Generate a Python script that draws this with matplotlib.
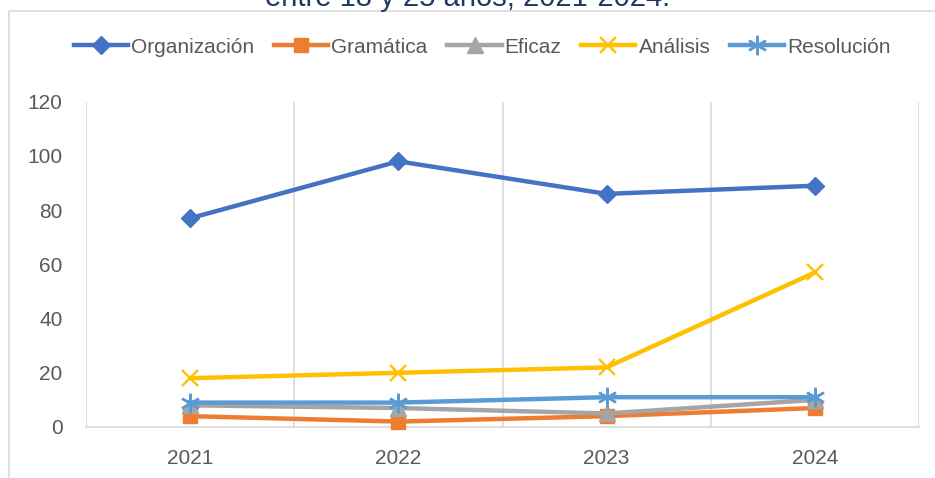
import matplotlib.pyplot as plt
import matplotlib.patches as mpatches
import numpy as np

# data
years = ["2021", "2022", "2023", "2024"]
organizacion = [77, 98, 86, 89]
gramatica = [4, 2, 4, 7]
eficaz = [8, 7, 5, 10]
analisis = [18, 20, 22, 57]
resolucion = [9, 9, 11, 11]

plt.rcParams['font.family'] = ['Liberation Sans', 'DejaVu Sans']

fig = plt.figure(figsize=(9.35, 4.78), dpi=100)

# chart frame (partly outside the picture)
frame = mpatches.Rectangle((9 / 935, -0.1), 1.2, 1 - 11 / 478 + 0.1,
                           transform=fig.transFigure, fill=False,
                           edgecolor="#D9D9D9", linewidth=1.2)
fig.patches.append(frame)

# title, cut off at the top
fig.text(0.5, 1 - 6 / 478, "entre 18 y 25 años, 2021-2024.", ha="center",
         va="baseline", fontsize=21, color="#1F3864")

ax = fig.add_axes([86 / 935, 1 - 427 / 478, (919 - 86) / 935, (427 - 101.7) / 478])
x = np.arange(len(years))

series = [
    ("Organización", organizacion, "#4472C4", "D", 9.5, 1),
    ("Gramática", gramatica, "#ED7D31", "s", 10, 1),
    ("Eficaz", eficaz, "#A5A5A5", "^", 11, 1),
    ("Análisis", analisis, "#FFC000", "x", 12, 1.7),
    ("Resolución", resolucion, "#5B9BD5", (6, 2, 0), 14, 1.7),
]

for name, vals, col, mk, ms, mew in series:
    ax.plot(x, vals, color=col, lw=3.2, marker=mk, markersize=ms,
            markeredgewidth=mew, markeredgecolor=col, markerfacecolor=col,
            label=name, clip_on=False, zorder=3)

ax.set_xlim(-0.5, 3.5)
ax.set_ylim(0, 120)
ax.set_yticks(range(0, 121, 20))
ax.set_xticks(x)
ax.set_xticklabels(years)
for sp in ["top", "right", "left"]:
    ax.spines[sp].set_visible(False)
ax.spines["bottom"].set_color("#D9D9D9")
ax.spines["bottom"].set_linewidth(1.2)
for b in np.arange(-0.5, 4.0, 1.0):
    ax.axvline(b, color="#D9D9D9", lw=1.2, zorder=1)
ax.tick_params(length=0, colors="#595959", labelsize=15)
ax.tick_params(axis="y", pad=17)
ax.tick_params(axis="x", pad=16)

leg = fig.legend(loc="center", bbox_to_anchor=(0.516, 1 - 47 / 478), ncol=5,
                 frameon=False, fontsize=15, handlelength=2.6,
                 handletextpad=0.15, columnspacing=0.95, labelcolor="#595959")

fig.savefig("out.png", dpi=100)
